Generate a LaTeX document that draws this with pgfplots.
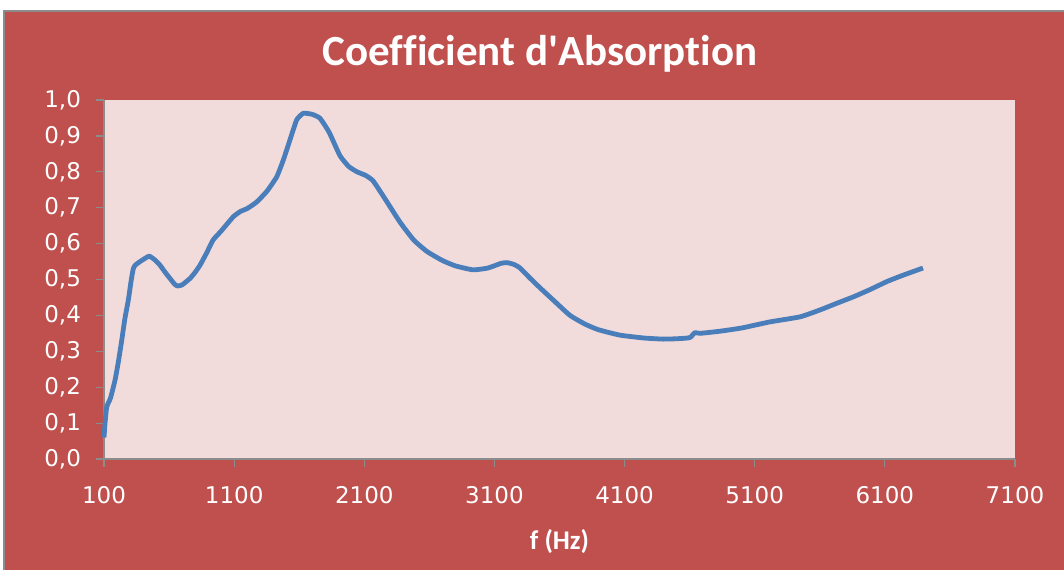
\documentclass[border=0pt]{standalone}
\usepackage{pgfplots}
\pgfplotsset{compat=1.18}
\usepackage{fontspec}
\setmainfont{Carlito}[Ligatures={NoCommon}]
\newfontfamily\tickfont{DejaVu Sans}
\definecolor{bgred}{HTML}{C0504D}
\definecolor{plotbg}{HTML}{F2DCDB}
\definecolor{linecol}{HTML}{4A7EBB}
\definecolor{axgray}{HTML}{8C8C8C}
\begin{document}
\begin{tikzpicture}[x=1pt,y=1pt]
\path[use as bounding box] (-52,-55.5) rectangle (480,229.5);
\fill[white] (-52,-55.5) rectangle (480,229.5);
\fill[bgred] (-50,-55.5) rectangle (480,224);
\draw[axgray,line width=0.8pt] (-50,-55.5) -- (-50,224) -- (480,224);
\node[text=white,font=\bfseries\fontsize{21.5}{24}\selectfont] at (218,202.5) {Coefficient d\textquotesingle Absorption};
\begin{axis}[
  at={(0,0)}, anchor=south west,
  scale only axis, width=455.5pt, height=179.5pt,
  xmin=100, xmax=7100, ymin=0, ymax=1,
  xtick={100,1100,2100,3100,4100,5100,6100,7100},
  ytick={0,0.1,0.2,0.3,0.4,0.5,0.6,0.7,0.8,0.9,1.0},
  axis background/.style={fill=plotbg},
  axis x line*=bottom, axis y line*=left,
  axis line style={axgray, line width=0.6pt, -},
  tick style={axgray, line width=0.6pt},
  tick align=outside, major tick length=4pt,
  ticklabel style={text=white, font=\tickfont\fontsize{11.5}{13}\selectfont},
  /pgf/number format/assume math mode=true,
  yticklabel style={/pgf/number format/fixed, /pgf/number format/fixed zerofill, /pgf/number format/precision=1, /pgf/number format/use comma, xshift=-4pt},
  xticklabel style={/pgf/number format/fixed, /pgf/number format/1000 sep={}, yshift=-6pt},
  xlabel={\bfseries f (Hz)},
  xlabel style={text=white, font=\bfseries\fontsize{13.5}{15}\selectfont, yshift=-6pt},
  clip=false,
]
\addplot[linecol, line width=2.4pt, line join=round, smooth, tension=0.3] coordinates {
(100,0.06) (108,0.10) (121,0.145) (150,0.17) (185,0.22) (210,0.27) (236,0.33)
(260,0.39) (287,0.443) (310,0.50) (325,0.53) (340,0.54) (377,0.55) (420,0.56)
(448,0.565) (490,0.555) (530,0.54) (570,0.52) (607,0.503) (640,0.488) (663,0.482)
(700,0.485) (761,0.503) (800,0.52) (838,0.54) (890,0.575) (938,0.61) (1000,0.635)
(1094,0.675) (1150,0.69) (1197,0.697) (1270,0.715) (1350,0.745) (1427,0.786)
(1480,0.835) (1529,0.889) (1581,0.945) (1632,0.963) (1700,0.96) (1760,0.949)
(1830,0.91) (1913,0.845) (1980,0.815) (2044,0.80) (2110,0.79) (2167,0.775)
(2250,0.73) (2374,0.66) (2480,0.61) (2582,0.578) (2700,0.553) (2800,0.538)
(2935,0.527) (3050,0.532) (3150,0.545) (3197,0.547) (3250,0.542) (3297,0.532)
(3370,0.505) (3450,0.477) (3560,0.44) (3681,0.400) (3800,0.375) (3900,0.36)
(4065,0.345) (4250,0.337) (4396,0.334) (4500,0.335) (4600,0.338) (4640,0.352)
(4679,0.350) (4833,0.356) (5000,0.365) (5218,0.382) (5448,0.396) (5600,0.415)
(5732,0.434) (5860,0.452) (5986,0.472) (6120,0.495) (6240,0.512) (6393,0.532)
};
\end{axis}
\end{tikzpicture}
\end{document}
